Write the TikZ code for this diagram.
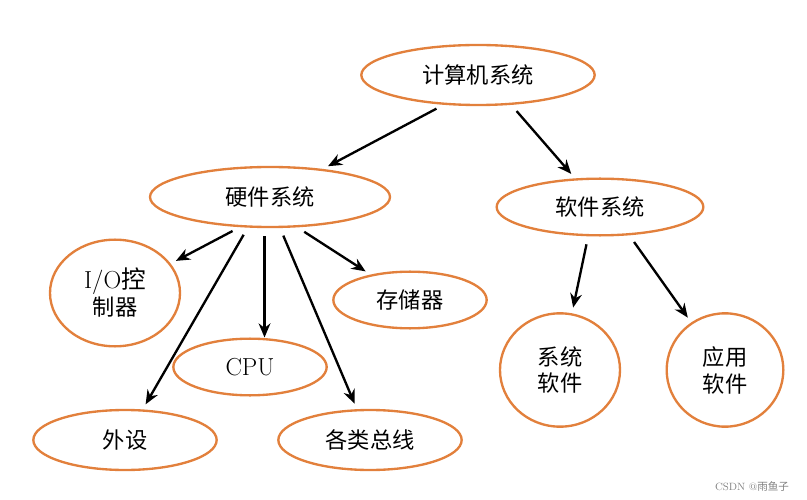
\documentclass[tikz,border=0pt]{standalone}
\usepackage{fontspec}
\newfontfamily\cjk{Noto Sans CJK SC}
\usetikzlibrary{shapes.geometric,arrows.meta}
\definecolor{rim}{RGB}{226,128,60}

\begin{document}
\begin{tikzpicture}[x=0.3mm,y=-0.3mm,
  oval/.style={ellipse, draw=rim, line width=2pt, inner sep=0pt, font=\fontsize{19}{23}\selectfont},
  link/.style={-{Stealth[length=12pt,width=10pt]}, line width=2pt, shorten <=7pt, shorten >=5pt}]
  \useasboundingbox (0,0) rectangle (807,500);
  \node[oval, minimum width=70mm, minimum height=18mm] (sys) at (478,75) {\cjk 计算机系统};
  \node[oval, minimum width=72mm, minimum height=18mm] (hw) at (270,197) {\cjk 硬件系统};
  \node[oval, minimum width=62mm, minimum height=17mm] (sw) at (600,207) {\cjk 软件系统};
  \node[oval, minimum width=39mm, minimum height=32mm, align=center] (io) at (115,293) {\fontsize{21}{23}\selectfont I/O{\cjk 控}\\{\cjk 制器}};
  \node[oval, minimum width=46mm, minimum height=17mm] (mem) at (410,300) {\cjk 存储器};
  \node[oval, minimum width=46mm, minimum height=17mm] (cpu) at (250,367) {\fontsize{21}{23}\selectfont CPU};
  \node[oval, minimum width=55mm, minimum height=18mm] (dev) at (125,440) {\cjk 外设};
  \node[oval, minimum width=55mm, minimum height=18mm] (bus) at (370,440) {\cjk 各类总线};
  \node[oval, minimum width=36mm, minimum height=34mm, align=center] (ssw) at (560,370) {\cjk 系统\\\cjk 软件};
  \node[oval, minimum width=35mm, minimum height=34mm, align=center] (asw) at (725,370) {\cjk 应用\\\cjk 软件};
  \node[text=gray, font=\fontsize{9}{11}\selectfont] (mark) at (752,486) {CSDN @{\cjk 雨鱼子}};

  \draw[link] (sys.-139) -- (hw);
  \draw[link] (sys.-42) -- (sw);
  \draw[link] (hw.-135) -- (io);
  \draw[link] (hw.-126) -- (dev);
  \draw[link, shorten >=0pt] (hw.-100) -- (hw.-100 |- cpu.north);
  \draw[link] (hw.-72) -- (bus);
  \draw[link] (hw.-48) -- (mem);
  \draw[link] (sw.-112) -- (ssw);
  \draw[link] (sw.-44) -- (asw);
\end{tikzpicture}
\end{document}
